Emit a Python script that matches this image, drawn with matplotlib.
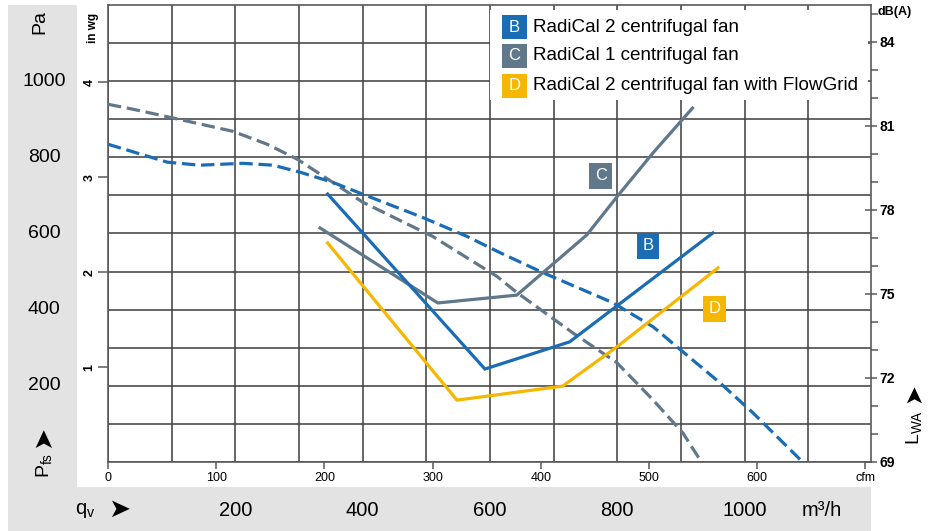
import matplotlib
matplotlib.use("Agg")
import matplotlib.pyplot as plt
from matplotlib.patches import Rectangle
from matplotlib import font_manager

W, H = 938, 531
names = {f.name for f in font_manager.fontManager.ttflist}
MAIN = 'Liberation Sans Narrow' if 'Liberation Sans Narrow' in names else 'Liberation Sans'
FONT = [MAIN, 'DejaVu Sans']
plt.rcParams['font.family'] = FONT

# ---------------- data ----------------
flow_labels_m3h = [200, 400, 600, 800, 1000]
pressure_labels_pa = [200, 400, 600, 800, 1000]
inwg_ticks = [1, 2, 3, 4]
cfm_ticks = [0, 100, 200, 300, 400, 500, 600, 700]
cfm_labels = ['0', '100', '200', '300', '400', '500', '600', 'cfm']
db_ticks = [69, 72, 75, 78, 81, 84]

# pressure curves (Pa vs m3/h) - dashed
b_pq_x = [0, 93, 144, 212, 259, 301, 353, 400, 494, 564, 615, 683, 793, 856, 961, 1013, 1091]
b_pq_y = [834, 787, 779, 784, 779, 761, 734, 703, 642, 592, 550, 497, 418, 355, 208, 129, 0]
c_pq_x = [0, 39, 102, 196, 250, 297, 353, 400, 510, 611, 642, 730, 799, 856, 903, 932]
c_pq_y = [939, 926, 903, 868, 834, 795, 734, 682, 592, 487, 445, 339, 261, 163, 76, 0]

# sound power curves (dB(A) vs m3/h) - solid
b_snd_x = [345, 592, 725, 950]
b_snd_y = [78.57, 72.32, 73.29, 77.18]
c_snd_x = [333, 518, 642, 752, 799, 856, 918]
c_snd_y = [77.36, 74.68, 74.96, 77.11, 78.46, 80.04, 81.64]
d_snd_x = [345, 548, 714, 799, 958]
d_snd_y = [76.82, 71.21, 71.71, 73.11, 75.93]

series_letters = ['B', 'C', 'D']
series_names = ['RadiCal 2 centrifugal fan', 'RadiCal 1 centrifugal fan',
                'RadiCal 2 centrifugal fan with FlowGrid']
BLUE, GREY, YELLOW = '#1a6db4', '#61788b', '#f6b700'
series_colors = [BLUE, GREY, YELLOW]

PA_PER_INWG = 249.089
M3H_PER_CFM = 1.699

# ---------------- figure ----------------
fig = plt.figure(figsize=(W / 100, H / 100), dpi=100)


def fx(px):
    return px / W


def fy(py):
    return 1 - py / H


BG = '#e3e3e3'
fig.patches.append(Rectangle((fx(8), 0), fx(77) - fx(8), fy(5), transform=fig.transFigure,
                             facecolor=BG, edgecolor='none', zorder=-5))
fig.patches.append(Rectangle((fx(8), 0), fx(871) - fx(8), fy(487), transform=fig.transFigure,
                             facecolor=BG, edgecolor='none', zorder=-5))

L, R, T, B = 108, 871, 5, 462
ax = fig.add_axes([fx(L), fy(B), fx(R) - fx(L), fy(T) - fy(B)])
XMAX = (R - L) / 0.6367
YMAX = (B - T) / 0.381
ax.set_xlim(0, XMAX)
ax.set_ylim(0, YMAX)
ax.set_xticks(range(0, 1200, 100))
ax.set_yticks(range(0, 1200, 100))
ax.tick_params(length=0, labelbottom=False, labelleft=False)
GRID = '#434343'
ax.grid(True, color=GRID, lw=1.15)
ax.set_axisbelow(True)
for s in ax.spines.values():
    s.set_color('#5a5a5a')
    s.set_linewidth(1.2)

DASH = (4.2, 1.8)
ax.plot(c_pq_x, c_pq_y, color=GREY, lw=2.3, dashes=DASH, zorder=3)
ax.plot(b_pq_x, b_pq_y, color=BLUE, lw=2.3, dashes=DASH, zorder=3)

# right axis: sound power
ax2 = ax.twinx()
ax2.set_ylim(69, 69 + (B - T) / 28)
ax2.set_yticks(db_ticks)
ax2.set_yticks(range(69, 86), minor=True)
ax2.tick_params(axis='y', which='major', direction='inout', length=8, width=1.1,
                color='#5a5a5a', labelsize=10, pad=2)
ax2.tick_params(axis='y', which='minor', direction='out', length=5, width=1.1, color='#5a5a5a')
for lbl in ax2.get_yticklabels():
    lbl.set_fontweight('bold')
for s in ax2.spines.values():
    s.set_visible(False)
ax2.plot(c_snd_x, c_snd_y, color=GREY, lw=2.3, solid_joinstyle='miter', zorder=3)
ax2.plot(b_snd_x, b_snd_y, color=BLUE, lw=2.3, solid_joinstyle='miter', zorder=3)
ax2.plot(d_snd_x, d_snd_y, color=YELLOW, lw=2.3, solid_joinstyle='miter', zorder=3)

# label boxes on curves
box_pos = {'C': (774, 751), 'B': (848, 567), 'D': (952, 402)}
for letter, col in zip(series_letters, series_colors):
    x, y = box_pos[letter]
    ax2.text(x, y, letter, transform=ax.transData, ha='center', va='center', color='white',
             fontsize=12, bbox=dict(boxstyle='square,pad=0.33', facecolor=col, edgecolor='none'),
             zorder=6)

# left secondary axis: inch water gauge
sec = ax.secondary_yaxis('left', functions=(lambda p: p / PA_PER_INWG, lambda w: w * PA_PER_INWG))
sec.set_yticks(inwg_ticks)
sec.tick_params(length=7, width=1.1, color='#5a5a5a', labelsize=9, pad=2)
for lbl in sec.get_yticklabels():
    lbl.set_rotation(90)
    lbl.set_va('center')
    lbl.set_fontweight('bold')
sec.spines['left'].set_visible(False)

# bottom secondary axis: cfm
secx = ax.secondary_xaxis('bottom', functions=(lambda m: m / M3H_PER_CFM, lambda c: c * M3H_PER_CFM))
secx.set_xticks(cfm_ticks)
secx.set_xticklabels(cfm_labels)
secx.tick_params(length=5, width=1.1, color='#5a5a5a', labelsize=9, pad=2)
secx.spines['bottom'].set_visible(False)

# Pa labels in the grey panel
for p in pressure_labels_pa:
    fig.text(fx(44), fy(B - p * 0.381), str(p), ha='center', va='center', fontsize=14)
fig.text(fx(40), fy(22), 'Pa', ha='center', va='center', fontsize=14, rotation=90)
fig.text(fx(43), fy(437), '\u27a4', ha='center', va='center', fontsize=19, rotation=90,
         family=['DejaVu Sans'])
fig.text(fx(44), fy(465), r'$\mathregular{P_{fs}}$', ha='center', va='center', fontsize=14,
         rotation=90)
fig.text(fx(93), fy(28), 'in wg', ha='center', va='center', fontsize=8.5, rotation=90,
         fontweight='bold')

# m3/h labels in the bottom band
for q in flow_labels_m3h:
    fig.text(fx(L + q * 0.6367), fy(510), str(q), ha='center', va='center', fontsize=14.5)
fig.text(fx(822), fy(510), 'm³/h', ha='center', va='center', fontsize=14.5)
fig.text(fx(85), fy(511), r'$\mathregular{q_v}$', ha='center', va='center', fontsize=14.5)
fig.text(fx(119), fy(510), '\u27a4', ha='center', va='center', fontsize=19,
         family=['DejaVu Sans'])

# right labels
fig.text(fx(895), fy(12), 'dB(A)', ha='center', va='center', fontsize=9, fontweight='bold')
fig.text(fx(913), fy(393), '\u27a4', ha='center', va='center', fontsize=17, rotation=90,
         family=['DejaVu Sans'])
fig.text(fx(914), fy(428), r'$\mathregular{L_{WA}}$', ha='center', va='center', fontsize=14,
         rotation=90)

# legend
fig.patches.append(Rectangle((fx(490), fy(100)), fx(868) - fx(490), fy(10) - fy(100),
                             transform=fig.transFigure, facecolor='white', edgecolor='none',
                             zorder=5))
row_y = [27, 56, 86]
for ry, letter, name, col in zip(row_y, series_letters, series_names, series_colors):
    fig.patches.append(Rectangle((fx(502), fy(ry + 12)), fx(527) - fx(502), fy(ry - 12) - fy(ry + 12),
                                 transform=fig.transFigure, facecolor=col, edgecolor='none',
                                 zorder=6))
    fig.text(fx(514.5), fy(ry), letter, ha='center', va='center', color='white', fontsize=12,
             zorder=7)
    fig.text(fx(533), fy(ry), name, ha='left', va='center', fontsize=13.6, zorder=7)

fig.savefig('out.png', dpi=100)
